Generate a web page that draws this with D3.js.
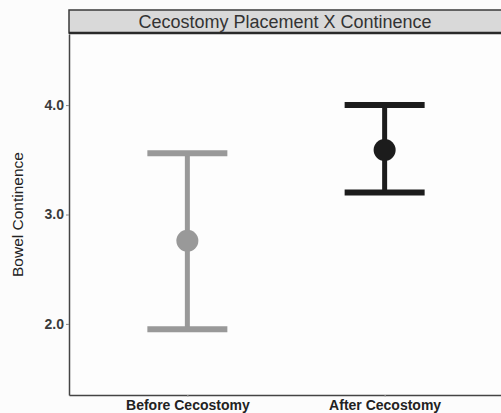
<!DOCTYPE html>
<html>
<head>
<meta charset="utf-8">
<script src="https://cdn.jsdelivr.net/npm/d3@7"></script>
<style>
body { margin: 0; background: #fcfcfc; }
text { font-family: "Liberation Sans", Arial, sans-serif; }
</style>
</head>
<body>
<div id="chart"></div>
<script>
// data
var groups = ["Before Cecostomy", "After Cecostomy"];
var means = [2.76, 3.59];
var lower = [1.95, 3.20];
var upper = [3.56, 4.00];
var colors = ["#999999", "#1c1c1c"];
var yticks = [2.0, 3.0, 4.0];

var svgwidth = 501, svgheight = 413;
var margin = {top: 34, bottom: 18, left: 69, right: -2};
var width = svgwidth - margin.left - margin.right;
var height = svgheight - margin.top - margin.bottom;

var svg = d3.select("#chart").append("svg").attr("width", svgwidth).attr("height", svgheight);
var chartgp = svg.append("g").attr("transform", `translate(${margin.left}, ${margin.top})`);

var xscale = d3.scalePoint().domain(groups).range([0, width]).padding(0.6);
var yscale = d3.scaleLinear().domain([1.35, 4.65]).range([height, 0]);

// panel background
chartgp.append("rect").attr("width", width).attr("height", height).attr("fill", "#fdfdfd");

// strip title
svg.append("rect").attr("x", margin.left).attr("y", 10).attr("width", width).attr("height", 23)
    .attr("fill", "#d9d9d9").attr("stroke", "#3a3a3a").attr("stroke-width", 1.5);
svg.append("line").attr("x1", margin.left).attr("x2", svgwidth).attr("y1", 33).attr("y2", 33)
    .attr("stroke", "#2a2a2a").attr("stroke-width", 2.5);
svg.append("text").attr("x", margin.left + (svgwidth - margin.left) / 2).attr("y", 28)
    .attr("text-anchor", "middle").attr("font-size", "18px").attr("fill", "#333")
    .text("Cecostomy Placement X Continence");

// axes
var axisleft = d3.axisLeft(yscale).tickValues(yticks).tickFormat(d3.format(".1f"))
    .tickSize(3).tickSizeOuter(0).tickPadding(2);
var ax = chartgp.append("g").call(axisleft);
ax.select(".domain").attr("stroke", "#444").attr("stroke-width", 1.5);
ax.selectAll(".tick line").attr("stroke", "#888");
ax.selectAll(".tick text").attr("font-size", "14px").attr("font-weight", "bold").attr("fill", "#3a3a3a")
    .attr("font-family", "Liberation Sans, Arial, sans-serif");

var axisbottom = d3.axisBottom(xscale).tickSize(2).tickSizeOuter(0).tickPadding(3);
var bx = chartgp.append("g").attr("transform", `translate(0, ${height})`).call(axisbottom);
bx.select(".domain").attr("stroke", "#444").attr("stroke-width", 1.5);
bx.selectAll(".tick line").attr("stroke", "#aaa");
bx.selectAll(".tick text").attr("font-size", "14px").attr("font-weight", "bold").attr("fill", "#222")
    .attr("font-family", "Liberation Sans, Arial, sans-serif");

chartgp.append("text").attr("transform", "rotate(-90)").attr("x", -(yscale(3.0))).attr("y", -46)
    .attr("text-anchor", "middle").attr("font-size", "15.5px").attr("fill", "#222").text("Bowel Continence");

// error bars
var capw = 40;
var bars = chartgp.selectAll(".bar").data(groups).enter().append("g").attr("class", "bar");
bars.append("line").attr("x1", d => xscale(d)).attr("x2", d => xscale(d))
    .attr("y1", (d, i) => yscale(upper[i])).attr("y2", (d, i) => yscale(lower[i]))
    .attr("stroke", (d, i) => colors[i]).attr("stroke-width", 5);
bars.append("line").attr("x1", d => xscale(d) - capw).attr("x2", d => xscale(d) + capw)
    .attr("y1", (d, i) => yscale(upper[i])).attr("y2", (d, i) => yscale(upper[i]))
    .attr("stroke", (d, i) => colors[i]).attr("stroke-width", 6);
bars.append("line").attr("x1", d => xscale(d) - capw).attr("x2", d => xscale(d) + capw)
    .attr("y1", (d, i) => yscale(lower[i])).attr("y2", (d, i) => yscale(lower[i]))
    .attr("stroke", (d, i) => colors[i]).attr("stroke-width", 6);
bars.append("circle").attr("cx", d => xscale(d)).attr("cy", (d, i) => yscale(means[i]))
    .attr("r", 11).attr("fill", (d, i) => colors[i]);
</script>
</body>
</html>
